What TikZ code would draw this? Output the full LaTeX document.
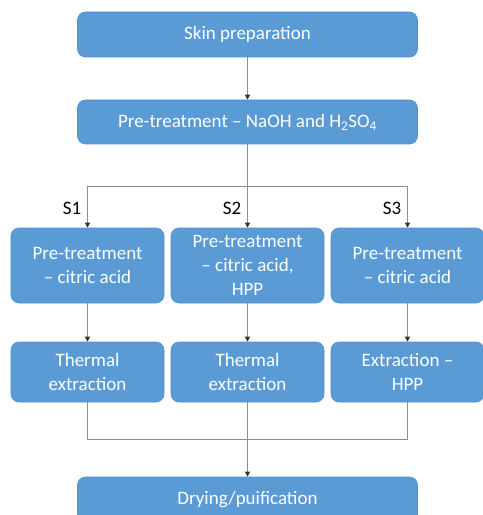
\documentclass[tikz,border=0pt]{standalone}
\usepackage{fontspec}
\setmainfont{Carlito}
\usetikzlibrary{arrows.meta}

\definecolor{boxblue}{HTML}{5B9BD5}
\definecolor{boxedge}{HTML}{4F8FCB}
\definecolor{linegray}{HTML}{8C8C8C}
\definecolor{tipgray}{HTML}{333333}

\begin{document}
\begin{tikzpicture}[x=1bp,y=-1bp,line cap=round,line join=round,
  every node/.style={font=\fontsize{19bp}{24bp}\selectfont},
  stepbox/.style={draw=boxedge,line width=0.6bp,fill=boxblue,text=white,rounded corners=8bp,
    align=center,inner sep=0pt},
  conn/.style={draw=linegray,line width=0.8bp},
  arr/.style={conn,-{Triangle[length=5bp,width=5bp,color=tipgray]}}]
  \useasboundingbox (0,0) rectangle (483,515);
  \def\wbig{340bp}
  \def\wsmall{153bp}
  % main column
  \node[stepbox,minimum width=\wbig,minimum height=45bp] (skin) at (247.5,34.5) {Skin preparation};
  \node[stepbox,minimum width=\wbig,minimum height=44bp] (base) at (247.5,122) {Pre-treatment -- NaOH and H\textsubscript{2}SO\textsubscript{4}};
  % three routes
  \node[stepbox,minimum width=\wsmall,minimum height=75bp] (pre1) at (87.5,265.5) {Pre-treatment\\-- citric acid};
  \node[stepbox,minimum width=\wsmall,minimum height=75bp] (pre2) at (247.5,265.5) {Pre-treatment\\-- citric acid,\\HPP};
  \node[stepbox,minimum width=\wsmall,minimum height=75bp] (pre3) at (407.5,265.5) {Pre-treatment\\-- citric acid};
  \node[stepbox,minimum width=\wsmall,minimum height=60bp] (ext1) at (87.5,372) {Thermal\\extraction};
  \node[stepbox,minimum width=\wsmall,minimum height=60bp] (ext2) at (247.5,372) {Thermal\\extraction};
  \node[stepbox,minimum width=\wsmall,minimum height=60bp] (ext3) at (407.5,372) {Extraction --\\HPP};
  \node[stepbox,minimum width=\wbig,minimum height=45bp] (dry) at (247.5,499.5) {Drying/puification};
  % route labels
  \node (s1) at (72,208) {S1};
  \node (s2) at (232,208) {S2};
  \node (s3) at (392,208) {S3};
  \coordinate (split) at (247.5,186);
  \coordinate (merge) at (247.5,439);
  \draw[arr] (skin) -- (base);
  \draw[arr] (base) -- (pre2);
  \draw[arr] (split) -| (pre1.north);
  \draw[arr] (split) -| (pre3.north);
  \foreach \k in {1,2,3} {
    \draw[arr] (pre\k) -- (ext\k);
  }
  \draw[conn] (ext1.south) |- (merge);
  \draw[conn] (ext3.south) |- (merge);
  \draw[arr] (ext2) -- (dry);
\end{tikzpicture}
\end{document}
